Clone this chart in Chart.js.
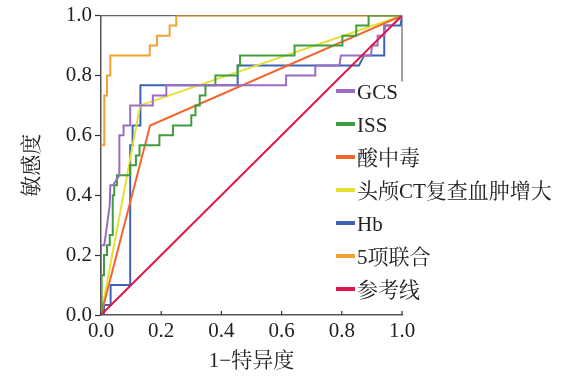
<!DOCTYPE html>
<html>
<head>
<meta charset="utf-8">
<script src="https://cdn.jsdelivr.net/npm/chart.js@4/dist/chart.umd.min.js"></script>
<style>
html,body{margin:0;padding:0;background:#fff;}
canvas{display:block;}
</style>
</head>
<body>
<canvas id="c" width="578" height="382"></canvas>
<script>
// ---- data ----
const seriesNames = ['GCS', 'ISS', '酸中毒', '头颅CT复查血肿增大', 'Hb', '5项联合', '参考线'];
const seriesColors = ['#9a6cc4', '#3f9c3f', '#f2662e', '#e4e034', '#3d62b8', '#f0a232', '#e0164a'];
const tickLabels = ['0.0', '0.2', '0.4', '0.6', '0.8', '1.0'];
const xTitle = '1−特异度';
const yTitle = '敏感度';

const gcsX = [0, 0, 0.011, 0.029, 0.031, 0.04, 0.061, 0.061, 0.075, 0.075, 0.097, 0.097, 0.172, 0.172, 0.217, 0.217, 0.615, 0.615, 0.712, 0.712, 0.792, 0.797, 0.897, 0.9, 0.919, 0.919, 0.941, 0.944, 0.967, 1];
const gcsY = [0, 0.233, 0.233, 0.367, 0.433, 0.433, 0.467, 0.6, 0.6, 0.633, 0.633, 0.7, 0.7, 0.733, 0.733, 0.767, 0.767, 0.8, 0.8, 0.833, 0.833, 0.867, 0.867, 0.9, 0.9, 0.933, 0.933, 0.967, 0.967, 1];

const issX = [0, 0, 0.003, 0.003, 0.01, 0.01, 0.02, 0.02, 0.029, 0.029, 0.039, 0.039, 0.044, 0.044, 0.053, 0.053, 0.097, 0.097, 0.116, 0.116, 0.128, 0.128, 0.194, 0.194, 0.239, 0.239, 0.3, 0.3, 0.314, 0.314, 0.328, 0.328, 0.347, 0.347, 0.38, 0.38, 0.454, 0.454, 0.462, 0.462, 0.643, 0.643, 0.802, 0.802, 0.848, 0.848, 0.889, 0.889, 1];
const issY = [0, 0.067, 0.067, 0.133, 0.133, 0.2, 0.2, 0.233, 0.233, 0.267, 0.267, 0.4, 0.4, 0.433, 0.433, 0.467, 0.467, 0.5, 0.5, 0.533, 0.533, 0.567, 0.567, 0.6, 0.6, 0.633, 0.633, 0.667, 0.667, 0.7, 0.7, 0.733, 0.733, 0.767, 0.767, 0.8, 0.8, 0.833, 0.833, 0.867, 0.867, 0.9, 0.9, 0.933, 0.933, 0.967, 0.967, 1, 1];

const acidX = [0, 0.163, 1];
const acidY = [0, 0.633, 1];

const ctX = [0, 0.13, 1];
const ctY = [0, 0.7, 1];

const hbX = [0, 0.01, 0.01, 0.032, 0.032, 0.097, 0.097, 0.105, 0.105, 0.131, 0.131, 0.454, 0.454, 0.857, 0.874, 0.941, 0.941, 0.995, 1];
const hbY = [0, 0, 0.033, 0.033, 0.1, 0.1, 0.567, 0.567, 0.633, 0.633, 0.767, 0.767, 0.833, 0.833, 0.867, 0.867, 0.967, 0.967, 1];

const comboX = [0, 0, 0.011, 0.011, 0.02, 0.02, 0.031, 0.031, 0.162, 0.162, 0.186, 0.186, 0.228, 0.228, 0.25, 0.25, 1];
const comboY = [0, 0.567, 0.567, 0.733, 0.733, 0.8, 0.8, 0.867, 0.867, 0.9, 0.9, 0.933, 0.933, 0.967, 0.967, 1, 1];

const refX = [0, 1];
const refY = [0, 1];

// ---- build chart ----
const FONT = '"Liberation Serif", "Noto Serif CJK SC", "Noto Sans CJK SC", serif';
const pts = (xs, ys) => xs.map((x, i) => ({ x: x, y: ys[i] }));
const seriesData = [
  pts(gcsX, gcsY), pts(issX, issY), pts(acidX, acidY), pts(ctX, ctY),
  pts(hbX, hbY), pts(comboX, comboY), pts(refX, refY)
];

const datasets = seriesNames.map((name, i) => ({
  label: name,
  data: seriesData[i],
  showLine: true,
  borderColor: seriesColors[i],
  backgroundColor: seriesColors[i],
  borderWidth: 2,
  pointRadius: 0,
  pointHoverRadius: 0,
  fill: false,
  tension: 0,
  order: i === 6 ? -1 : 0
}));

const framePlugin = {
  id: 'frame',
  beforeDatasetsDraw(chart) {
    const { ctx, scales: { x, y } } = chart;
    ctx.save();
    ctx.strokeStyle = '#666';
    ctx.lineWidth = 1.2;
    ctx.beginPath();
    ctx.moveTo(x.getPixelForValue(0), y.getPixelForValue(1));
    ctx.lineTo(x.getPixelForValue(1), y.getPixelForValue(1));
    ctx.moveTo(x.getPixelForValue(1), y.getPixelForValue(1));
    ctx.lineTo(x.getPixelForValue(1), y.getPixelForValue(0.78));
    ctx.stroke();
    // inward tick marks on x axis
    ctx.strokeStyle = '#333';
    ctx.beginPath();
    x.ticks.forEach(t => {
      const px = x.getPixelForValue(t.value);
      ctx.moveTo(px, y.getPixelForValue(0));
      ctx.lineTo(px, y.getPixelForValue(0) - 4);
    });
    ctx.stroke();
    ctx.restore();
  },
  afterDraw(chart) {
    const { ctx } = chart;
    const left = 336, top = 93, step = 33;
    ctx.save();
    ctx.font = '21px ' + FONT;
    ctx.textBaseline = 'middle';
    ctx.textAlign = 'left';
    chart.data.datasets.forEach((ds, i) => {
      const cy = top + i * step;
      ctx.strokeStyle = ds.borderColor;
      ctx.lineWidth = 4;
      ctx.beginPath();
      ctx.moveTo(left, cy - 2);
      ctx.lineTo(left + 19, cy - 2);
      ctx.stroke();
      ctx.fillStyle = '#222';
      ctx.fillText(ds.label, left + 21, cy);
    });
    ctx.restore();
  }
};

new Chart(document.getElementById('c'), {
  type: 'scatter',
  data: { datasets: datasets },
  options: {
    responsive: false,
    devicePixelRatio: 1,
    animation: false,
    layout: { padding: { left: 0, top: 13, right: 176, bottom: 0 } },
    plugins: {
      legend: { display: false },
      tooltip: { enabled: false }
    },
    scales: {
      x: {
        type: 'linear',
        min: 0, max: 1,
        grid: { display: false, drawTicks: false },
        border: { display: true, color: '#555', width: 1.5 },
        ticks: {
          stepSize: 0.2, autoSkip: false, maxRotation: 0, padding: 4,
          color: '#222', font: { family: FONT, size: 21 },
          callback: (v, i) => tickLabels[i]
        },
        title: {
          display: true, text: xTitle, color: '#222',
          font: { family: FONT, size: 21 }, padding: { top: 0, bottom: 8 }
        },
        afterFit: s => { s.height = 67; }
      },
      y: {
        type: 'linear',
        min: 0, max: 1,
        grid: { display: true, drawOnChartArea: false, drawTicks: true, tickLength: 6, color: '#333', tickWidth: 1.2 },
        border: { display: true, color: '#555', width: 1.5 },
        ticks: {
          stepSize: 0.2, autoSkip: false, padding: 3,
          color: '#222', font: { family: FONT, size: 21 },
          callback: (v, i) => tickLabels[i]
        },
        title: {
          display: true, text: yTitle, color: '#222',
          font: { family: FONT, size: 21 }, padding: { top: 20, bottom: 0 }
        },
        afterFit: s => { s.width = 101; }
      }
    }
  },
  plugins: [framePlugin]
});
</script>
</body>
</html>
